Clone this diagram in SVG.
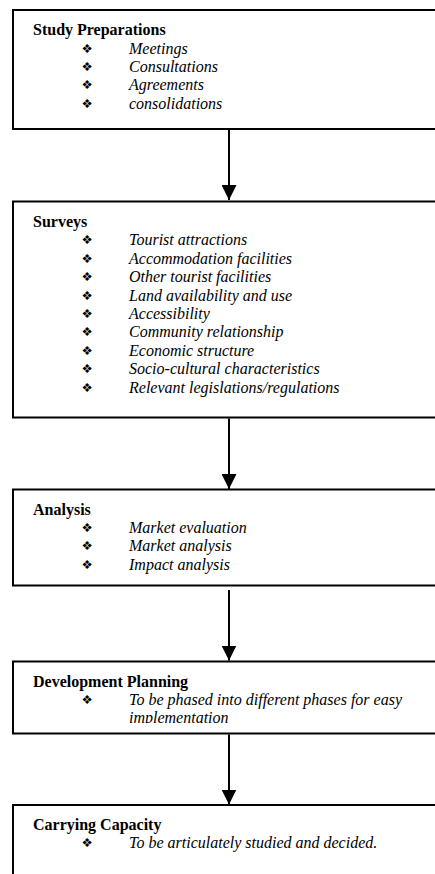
<svg xmlns="http://www.w3.org/2000/svg" width="435" height="874" viewBox="0 0 435 874">
<style>
.box{fill:#fff;stroke:#000;stroke-width:2}
.h{font-family:"Liberation Serif","Times New Roman",serif;font-weight:bold;font-size:16px;fill:#000}
.it{font-family:"Liberation Serif","Times New Roman",serif;font-style:italic;font-size:16px;fill:#000}
.b{font-family:"DejaVu Sans",sans-serif;font-size:12.5px;fill:#000}
.con{stroke:#000;stroke-width:2;fill:none}
</style>
<defs>
<marker id="ah" markerUnits="userSpaceOnUse" markerWidth="15" markerHeight="15" refX="15" refY="7.5" orient="auto">
<path d="M0,0 L15,7.5 L0,15 Z" fill="#000"/>
</marker>
<clipPath id="clip4"><rect x="0" y="661" width="435" height="62"/></clipPath>
</defs>
<rect width="435" height="874" fill="#fff"/>
<g id="n1">
<rect class="box" x="13" y="10" width="440" height="119"/>
<text class="h" x="33" y="35">Study Preparations</text>
<text class="b" x="81.5" y="52.5">❖</text><text class="it" x="129" y="53.5">Meetings</text>
<text class="b" x="81.5" y="70.9">❖</text><text class="it" x="129" y="71.9">Consultations</text>
<text class="b" x="81.5" y="89.3">❖</text><text class="it" x="129" y="90.3">Agreements</text>
<text class="b" x="81.5" y="107.7">❖</text><text class="it" x="129" y="108.7">consolidations</text>
</g>
<g id="n2">
<rect class="box" x="13" y="201.5" width="440" height="216"/>
<text class="h" x="33" y="227">Surveys</text>
<text class="b" x="81.5" y="244.4">❖</text><text class="it" x="129" y="245.4">Tourist attractions</text>
<text class="b" x="81.5" y="262.8">❖</text><text class="it" x="129" y="263.8">Accommodation facilities</text>
<text class="b" x="81.5" y="281.2">❖</text><text class="it" x="129" y="282.2">Other tourist facilities</text>
<text class="b" x="81.5" y="299.6">❖</text><text class="it" x="129" y="300.6">Land availability and use</text>
<text class="b" x="81.5" y="318">❖</text><text class="it" x="129" y="319">Accessibility</text>
<text class="b" x="81.5" y="336.4">❖</text><text class="it" x="129" y="337.4">Community relationship</text>
<text class="b" x="81.5" y="354.8">❖</text><text class="it" x="129" y="355.8">Economic structure</text>
<text class="b" x="81.5" y="373.2">❖</text><text class="it" x="129" y="374.2">Socio-cultural characteristics</text>
<text class="b" x="81.5" y="391.6">❖</text><text class="it" x="129" y="392.6">Relevant legislations/regulations</text>
</g>
<g id="n3">
<rect class="box" x="13" y="489.5" width="440" height="96"/>
<text class="h" x="33" y="514.5">Analysis</text>
<text class="b" x="81.5" y="531.9">❖</text><text class="it" x="129" y="532.9">Market evaluation</text>
<text class="b" x="81.5" y="550.3">❖</text><text class="it" x="129" y="551.3">Market analysis</text>
<text class="b" x="81.5" y="568.7">❖</text><text class="it" x="129" y="569.7">Impact analysis</text>
</g>
<g id="n4">
<rect class="box" x="13" y="661.5" width="440" height="72"/>
<text class="h" x="33" y="686.5">Development Planning</text>
<text class="b" x="81.5" y="703.9">❖</text><text class="it" x="129" y="704.9">To be phased into different phases for easy</text>
<text class="it" x="129" y="723.3" clip-path="url(#clip4)">implementation</text>
</g>
<g id="n5">
<rect class="box" x="13" y="805" width="440" height="100"/>
<text class="h" x="33" y="830">Carrying Capacity</text>
<text class="b" x="81.5" y="847.4">❖</text><text class="it" x="129" y="848.4">To be articulately studied and decided.</text>
</g>
<g id="connectors">
<line class="con" x1="229" y1="130" x2="229" y2="200" marker-end="url(#ah)"/>
<line class="con" x1="229" y1="418.5" x2="229" y2="489" marker-end="url(#ah)"/>
<line class="con" x1="229" y1="590" x2="229" y2="660.5" marker-end="url(#ah)"/>
<line class="con" x1="229" y1="734.5" x2="229" y2="804.5" marker-end="url(#ah)"/>
</g>
</svg>
